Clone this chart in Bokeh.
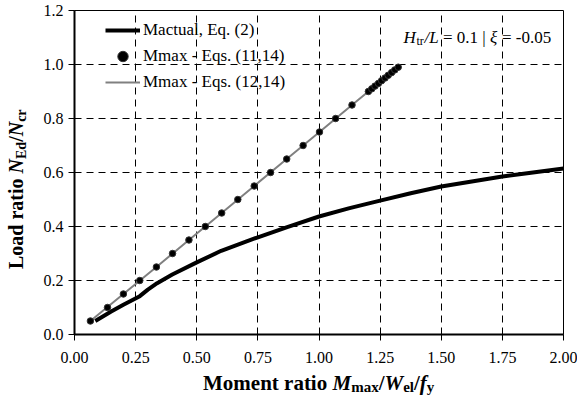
from bokeh.plotting import figure
from bokeh.models import (Label, Legend, LegendItem, FixedTicker,
                          PrintfTickFormatter, Range1d, Div)
from bokeh.layouts import column, row
from bokeh.embed import file_html
from bokeh.resources import INLINE

# ---------------- data ----------------
mactual_x = [0.085, 0.15, 0.20, 0.267, 0.30, 0.338, 0.40, 0.50, 0.60, 0.75,
             0.87, 1.00, 1.125, 1.25, 1.375, 1.50, 1.625, 1.75, 1.875, 2.00]
mactual_y = [0.05, 0.085, 0.11, 0.142, 0.166, 0.19, 0.222, 0.267, 0.31, 0.36,
             0.398, 0.437, 0.468, 0.496, 0.523, 0.548, 0.567, 0.585, 0.60, 0.615]

mmax11_x = [0.065, 0.135, 0.200, 0.267, 0.335, 0.401, 0.468, 0.535, 0.602, 0.668,
            0.735, 0.802, 0.868, 0.935, 1.002, 1.068, 1.135, 1.202, 1.216, 1.229,
            1.243, 1.256, 1.270, 1.283, 1.297, 1.310, 1.324]
mmax11_y = [0.05, 0.10, 0.15, 0.20, 0.25, 0.30, 0.35, 0.40, 0.45, 0.50,
            0.55, 0.60, 0.65, 0.70, 0.75, 0.80, 0.85, 0.90, 0.91, 0.92,
            0.93, 0.94, 0.95, 0.96, 0.97, 0.98, 0.99]

mmax12_x = [0.065, 0.200, 0.335, 0.468, 0.602, 0.735, 0.868, 1.002, 1.135, 1.202, 1.324]
mmax12_y = [0.05, 0.15, 0.25, 0.35, 0.45, 0.55, 0.65, 0.75, 0.85, 0.90, 0.99]

x_ticks = [0.0, 0.25, 0.5, 0.75, 1.0, 1.25, 1.5, 1.75, 2.0]
y_ticks = [0.0, 0.2, 0.4, 0.6, 0.8, 1.0, 1.2]

legend_labels = ["Mactual, Eq. (2)", "Mmax - Eqs. (11,14)", "Mmax - Eqs. (12,14)"]

# ---------------- layout ----------------
FONT = "Liberation Serif"
TOTAL_W, TOTAL_H = 577, 401
YDIV_W = 30                          # width of the y-title strip
PW, PH = TOTAL_W - YDIV_W, 370       # figure size
XDIV_H = TOTAL_H - PH
PX0, PY0 = YDIV_W, 0                 # figure origin in layout pixels
FL, FR, FT, FB = 74, 563, 10, 334    # frame edges in layout pixels
XMIN, XMAX, YMIN, YMAX = 0.0, 2.0, 0.0, 1.2


def X(px):
    return XMIN + (px - FL) / (FR - FL) * (XMAX - XMIN)


def Y(py):
    return YMIN + (FB - py) / (FB - FT) * (YMAX - YMIN)


p = figure(width=PW, height=PH, output_backend="svg", toolbar_location=None,
           x_range=Range1d(XMIN, XMAX), y_range=Range1d(YMIN, YMAX),
           min_border_left=FL - PX0, min_border_right=PX0 + PW - FR,
           min_border_top=FT - PY0, min_border_bottom=PY0 + PH - FB)

p.outline_line_color = "black"
p.outline_line_width = 1
p.background_fill_color = "white"
p.border_fill_color = "white"

for g in (p.xgrid, p.ygrid):
    g.grid_line_color = "black"
    g.grid_line_dash = "7 5"
    g.grid_line_width = 1

p.xaxis.ticker = FixedTicker(ticks=x_ticks)
p.yaxis.ticker = FixedTicker(ticks=y_ticks)
p.xaxis.formatter = PrintfTickFormatter(format="%.2f")
p.yaxis.formatter = PrintfTickFormatter(format="%.1f")
for ax in (p.xaxis, p.yaxis):
    ax.axis_line_color = "black"
    ax.axis_line_width = 2
    ax.major_tick_line_color = "black"
    ax.major_tick_line_width = 1
    ax.major_tick_out = 6
    ax.major_tick_in = 0
    ax.minor_tick_line_color = None
    ax.major_label_text_font = FONT
    ax.major_label_text_font_size = "16px"
    ax.major_label_text_color = "black"
p.xaxis.major_label_standoff = 11
p.yaxis.major_label_standoff = 5

r1 = p.line(mactual_x, mactual_y, line_color="black", line_width=4)
r3 = p.line(mmax12_x, mmax12_y, line_color="#808080", line_width=2)
r2 = p.scatter(mmax11_x, mmax11_y, size=6.5, fill_color="black", line_color="#333333")

legend = Legend(items=[LegendItem(label=legend_labels[0], renderers=[r1]),
                       LegendItem(label=legend_labels[1], renderers=[r2]),
                       LegendItem(label=legend_labels[2], renderers=[r3])],
                location=(31, 239), margin=0, padding=0, spacing=0,
                glyph_width=35, glyph_height=26, label_height=26,
                label_standoff=3, label_text_font=FONT,
                label_text_font_size="17px", label_text_color="black",
                background_fill_alpha=0, border_line_alpha=0)
p.add_layout(legend)


def lab(text, px, py, size, style="normal"):
    p.add_layout(Label(x=X(px), y=Y(py), text=text, text_font=FONT,
                       text_font_size=f"{size}px", text_font_style=style,
                       text_color="black", text_align="left",
                       text_baseline="alphabetic"))


# annotation: H_tr/L = 0.1 | xi = -0.05
lab("H", 403, 37, 17, "italic")
lab("tr", 416, 40, 12, "normal")
lab("/L", 424, 37, 17, "italic")
lab("= 0.1 |", 442.5, 37, 17, "normal")
lab("\u03be", 489.5, 37, 17, "italic")
lab("= -0.05", 501.5, 37, 17, "normal")

# axis titles (rich text with subscripts)
SUB = "font-size:15px;position:relative;top:2px;"
x_title = ("<span>Moment ratio <i>M</i><span style='%s'>max</span>/<i>W</i>"
           "<span style='%s'>el</span>/<i>f</i><span style='%s'>y</span></span>"
           % (SUB, SUB, SUB))
SUBY = "font-size:14px;position:relative;top:3px;"
y_title = ("<div style='transform:translate(6px,269px) rotate(-90deg);"
           "transform-origin:0 0;white-space:nowrap;width:300px;line-height:20px;'>"
           "Load ratio <i>N</i><span style='%s'>Ed</span>/<i>N</i>"
           "<span style='%s'>cr</span></div>" % (SUBY, SUBY))

base_style = {"font-family": FONT, "font-weight": "bold",
              "color": "black", "line-height": "20px"}
xdiv = Div(text=x_title, width=TOTAL_W, height=XDIV_H, margin=0,
           styles=dict(base_style, **{"font-size": "21px",
                                      "padding-left": "203px",
                                      "padding-top": "3px"}))
ydiv = Div(text=y_title, width=YDIV_W, height=PH, margin=0,
           styles=dict(base_style, **{"font-size": "20px"}))

layout = column(row(ydiv, p, spacing=0), xdiv, spacing=0)

open("out.html", "w").write(file_html(layout, INLINE))
